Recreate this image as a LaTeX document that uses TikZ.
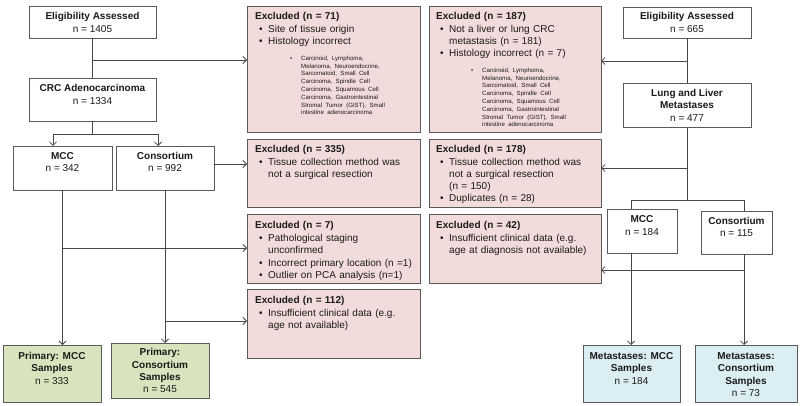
\documentclass[tikz,border=0pt]{standalone}
\usepackage{fontspec}
\setmainfont{Liberation Sans}
\usetikzlibrary{arrows.meta}
\definecolor{pinkfill}{HTML}{F2DCDB}
\definecolor{greenfill}{HTML}{D7E4BD}
\definecolor{bluefill}{HTML}{DBEEF4}
\definecolor{edgegray}{HTML}{5A5A5A}
\definecolor{wiregray}{HTML}{474747}
\definecolor{txt}{HTML}{1A1A1A}
\newcommand\bitem[1]{\par\noindent\rightskip=0pt plus 1fil\hangindent=13pt\hangafter=1\makebox[13pt][l]{\hspace{4pt}•}#1\par}
\newcommand\sitems[2]{\par\vspace{#1}{\fontsize{6.1}{7.8}\selectfont\leftskip=46pt\rightskip=0pt plus 1fil\noindent\llap{\makebox[11pt][l]{•}}#2\par}}
\newcommand\hitem[1]{\noindent\rule{0pt}{8pt}\textbf{#1}\par\vspace{1.2pt}}
\newcommand\histlist{Carcinoid, Lymphoma,\newline Melanoma, Neuroendocrine,\newline Sarcomatoid, Small Cell\newline Carcinoma, Spindle Cell\newline Carcinoma, Squamous Cell\newline Carcinoma, Gastrointestinal\newline Stromal Tumor (GIST), Small\newline intestine adenocarcinoma}
\begin{document}
\begin{tikzpicture}[x=1pt,y=-1pt,
  box/.style={draw=edgegray, line width=0.8pt, inner sep=0pt, outer sep=0pt, anchor=north west},
  wbox/.style={box, fill=white},
  pbox/.style={box, fill=pinkfill},
  gbox/.style={box, fill=greenfill},
  bbox/.style={box, fill=bluefill},
  mtext/.style={anchor=north, align=center, inner sep=0pt, text=txt, font=\fontsize{10}{12.3}\selectfont},
  extext/.style={anchor=north west, inner sep=0pt, text=txt, text width=162pt, font=\fontsize{10}{12}\selectfont},
  wire/.style={draw=wiregray, line width=0.8pt},
  arr/.style={wire, -{Straight Barb[length=3.5pt,width=7pt]}}
]
\useasboundingbox (0,0) rectangle (800,406);
\fill[white] (0,0) rectangle (800,406);

% ---------- left column boxes
\node[wbox, minimum width=127pt, minimum height=32pt] (ea1) at (29,6) {};
\node[mtext] (ea1t) at ([yshift=-5.6pt]ea1.north) {\rule{0pt}{8pt}\textbf{Eligibility Assessed}\\n = 1405};
\node[wbox, minimum width=127pt, minimum height=43pt] (crc) at (29,78) {};
\node[mtext] (crct) at ([yshift=-5.6pt]crc.north) {\rule{0pt}{8pt}\textbf{CRC Adenocarcinoma}\\n = 1334};
\node[wbox, minimum width=99pt, minimum height=44pt] (mcc1) at (13,146) {};
\node[mtext] (mcc1t) at ([yshift=-5.3pt]mcc1.north) {\rule{0pt}{8pt}\textbf{MCC}\\n = 342};
\node[wbox, minimum width=98pt, minimum height=44pt] (cons1) at (116,146) {};
\node[mtext] (cons1t) at ([yshift=-5.3pt]cons1.north) {\rule{0pt}{8pt}\textbf{Consortium}\\n = 992};
\node[gbox, minimum width=98pt, minimum height=57pt] (pmcc) at (3,345) {};
\node[mtext] (pmcct) at ([yshift=-6.3pt]pmcc.north) {\rule{0pt}{8pt}\textbf{Primary: MCC}\\\textbf{Samples}\\n = 333};
\node[gbox, minimum width=98pt, minimum height=55pt] (pcons) at (111,343) {};
\node[mtext] (pconst) at ([yshift=-4.6pt]pcons.north) {\rule{0pt}{8pt}\textbf{Primary:}\\\textbf{Consortium}\\\textbf{Samples}\\n = 545};

% ---------- excluded boxes (left)
\node[pbox, minimum width=173pt, minimum height=126pt] (ex71) at (247,6) {};
\node[extext] (ex71t) at ([xshift=8pt,yshift=-5.3pt]ex71.north west) {\hitem{Excluded (n = 71)}\bitem{Site of tissue origin}\bitem{Histology incorrect}\sitems{7.9pt}{\histlist}};
\node[pbox, minimum width=173pt, minimum height=68pt] (ex335) at (247,139) {};
\node[extext] (ex335t) at ([xshift=8pt,yshift=-5.3pt]ex335.north west) {\hitem{Excluded (n = 335)}\bitem{Tissue collection method was\newline not a surgical resection}};
\node[pbox, minimum width=173pt, minimum height=69pt] (ex7) at (247,214) {};
\node[extext] (ex7t) at ([xshift=8pt,yshift=-5.8pt]ex7.north west) {\hitem{Excluded (n = 7)}\bitem{Pathological staging\newline unconfirmed}\vspace{1pt}\bitem{Incorrect primary location (n =1)}\bitem{Outlier on PCA analysis (n=1)}};
\node[pbox, minimum width=173pt, minimum height=69pt] (ex112) at (247,289) {};
\node[extext] (ex112t) at ([xshift=8pt,yshift=-5.8pt]ex112.north west) {\hitem{Excluded (n = 112)}\bitem{Insufficient clinical data (e.g.\newline age not available)}};

% ---------- excluded boxes (right)
\node[pbox, minimum width=172pt, minimum height=126pt] (ex187) at (429,6) {};
\node[extext] (ex187t) at ([xshift=7pt,yshift=-5.3pt]ex187.north west) {\hitem{Excluded (n = 187)}\bitem{Not a liver or lung CRC\newline metastasis (n = 181)}\bitem{Histology incorrect (n = 7)}\sitems{7.9pt}{\histlist}};
\node[pbox, minimum width=172pt, minimum height=68pt] (ex178) at (429,139) {};
\node[extext] (ex178t) at ([xshift=7pt,yshift=-5.3pt]ex178.north west) {\hitem{Excluded (n = 178)}\bitem{Tissue collection method was\newline not a surgical resection\newline (n = 150)}\bitem{Duplicates (n = 28)}};
\node[pbox, minimum width=172pt, minimum height=69pt] (ex42) at (429,214) {};
\node[extext] (ex42t) at ([xshift=7pt,yshift=-5.8pt]ex42.north west) {\hitem{Excluded (n = 42)}\bitem{Insufficient clinical data (e.g.\newline age at diagnosis not available)}};

% ---------- right column boxes
\node[wbox, minimum width=128pt, minimum height=31pt] (ea2) at (623,7) {};
\node[mtext] (ea2t) at ([yshift=-4.8pt]ea2.north) {\rule{0pt}{8pt}\textbf{Eligibility Assessed}\\n = 665};
\node[wbox, minimum width=128pt, minimum height=44pt] (llm) at (623,83) {};
\node[mtext] (llmt) at ([yshift=-5.3pt]llm.north) {\rule{0pt}{8pt}\textbf{Lung and Liver}\\\textbf{Metastases}\\n = 477};
\node[wbox, minimum width=70pt, minimum height=44pt] (mcc2) at (607,209) {};
\node[mtext] (mcc2t) at ([yshift=-5.6pt]mcc2.north) {\rule{0pt}{8pt}\textbf{MCC}\\n = 184};
\node[wbox, minimum width=71pt, minimum height=43pt] (cons2) at (701,211) {};
\node[mtext] (cons2t) at ([yshift=-5.3pt]cons2.north) {\rule{0pt}{8pt}\textbf{Consortium}\\n = 115};
\node[bbox, minimum width=97pt, minimum height=57pt] (mmcc) at (583,345) {};
\node[mtext] (mmcct) at ([yshift=-6.3pt]mmcc.north) {\rule{0pt}{8pt}\textbf{Metastases: MCC}\\\textbf{Samples}\\n = 184};
\node[bbox, minimum width=102pt, minimum height=57pt] (mcons) at (695,345) {};
\node[mtext] (mconst) at ([yshift=-6.3pt]mcons.north) {\rule{0pt}{8pt}\textbf{Metastases:}\\\textbf{Consortium}\\\textbf{Samples}\\n = 73};

% ---------- left connectors
\coordinate (j1) at (92.5,60);
\draw[wire] (ea1.south) -- (crc.north);
\draw[arr] (j1) -- (j1 -| ex71.west);
\coordinate (j2) at (92.5,134);
\coordinate (j2l) at (53,134);
\coordinate (j2r) at (158,134);
\draw[wire] (crc.south) -- (j2);
\draw[wire] (j2l) -- (j2r);
\draw[arr] (j2l) -- (j2l |- mcc1.north);
\draw[arr] (j2r) -- (j2r |- cons1.north);
\coordinate (k1) at (214,164);
\draw[arr] (k1) -- (k1 -| ex335.west);
\draw[arr] (mcc1.south) -- (mcc1.south |- pmcc.north);
\draw[arr] (cons1.south) -- (cons1.south |- pcons.north);
\coordinate (h7) at (62.5,248);
\draw[arr] (h7) -- (h7 -| ex7.west);
\coordinate (h112) at (165,321);
\draw[arr] (h112) -- (h112 -| ex112.west);

% ---------- right connectors
\draw[wire] (ea2.south) -- (llm.north);
\coordinate (r1) at (687,61);
\draw[arr] (r1) -- (r1 -| ex187.east);
\coordinate (r2) at (687,200);
\draw[wire] (llm.south) -- (r2);
\coordinate (r3) at (687,168);
\draw[arr] (r3) -- (r3 -| ex178.east);
\coordinate (r2l) at (631,200);
\coordinate (r2r) at (744,200);
\draw[wire] (r2l) -- (r2r);
\draw[wire] (r2l) -- (r2l |- mcc2.north);
\draw[wire] (r2r) -- (r2r |- cons2.north);
\draw[arr] (r2l |- mcc2.south) -- (r2l |- mmcc.north);
\draw[arr] (r2r |- cons2.south) -- (r2r |- mcons.north);
\coordinate (r5) at (744,270);
\draw[arr] (r5) -- (r5 -| ex42.east);
\end{tikzpicture}
\end{document}
